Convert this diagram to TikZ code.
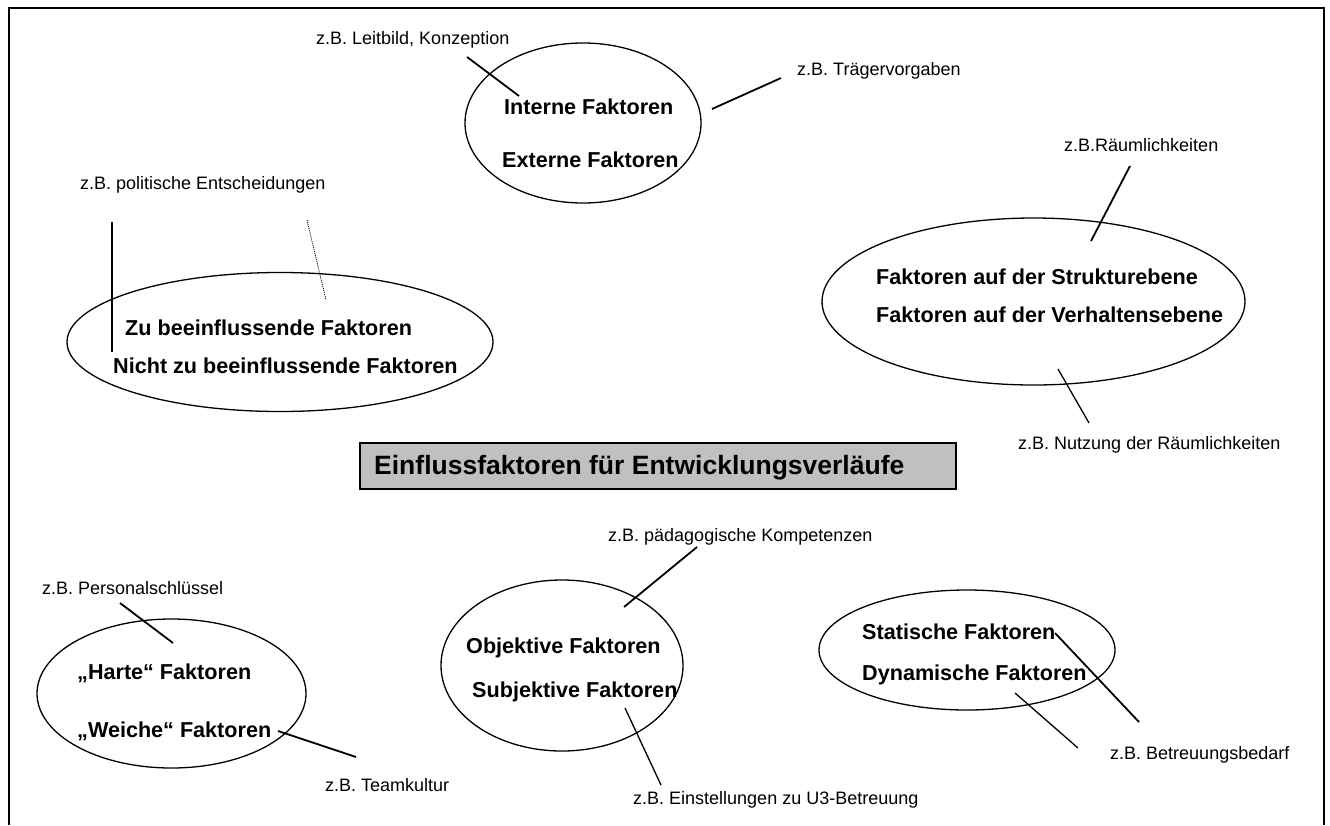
\documentclass[tikz,border=0pt]{standalone}
\usepackage{fontspec}
\setmainfont{Liberation Sans}
\usetikzlibrary{shapes.geometric}
\begin{document}
\begin{tikzpicture}[x=1pt,y=-1pt,
  lbl/.style={font=\fontsize{18}{21}\selectfont, anchor=base west, inner sep=0pt},
  fac/.style={font=\bfseries\fontsize{21.6}{25}\selectfont, anchor=base west, inner sep=0pt},
  oval/.style={draw, ellipse, line width=1.3pt, inner sep=0pt},
  conn/.style={line width=1.8pt},
  thinconn/.style={line width=1.3pt},
  dotconn/.style={line width=0.8pt, dash pattern=on 1pt off 1pt},
  titlebox/.style={draw, line width=1.5pt, fill=boxgray, anchor=north west, inner sep=0pt}]
\definecolor{boxgray}{HTML}{C0C0C0}
\useasboundingbox (0,0) rectangle (1330,825);
% frame
\draw[line width=2pt] (9,825) -- (9,8) -- (1324,8) -- (1324,825);

% ---------- ellipses ----------
\node[oval, minimum width=236pt, minimum height=160pt] (e1) at (583,123) {};
\node[oval, minimum width=426pt, minimum height=139pt] (e2) at (280,342) {};
\node[oval, minimum width=423pt, minimum height=167pt] (e3) at (1033.5,301.5) {};
\node[oval, minimum width=269pt, minimum height=149pt] (e4) at (171.5,693.5) {};
\node[oval, minimum width=242pt, minimum height=171pt] (e5) at (562,665.5) {};
\node[oval, minimum width=296pt, minimum height=120pt] (e6) at (967,650) {};

% ---------- title ----------
\node[titlebox, minimum width=596pt, minimum height=46pt] (tb) at (359,442) {};
\node[anchor=base west, inner sep=0pt, font=\bfseries\fontsize{26.5}{30}\selectfont] (title) at (374,474) {Einflussfaktoren für Entwicklungsverläufe};

% ---------- factor texts ----------
\node[fac] (t1a) at (504,114) {Interne Faktoren};
\node[fac] (t1b) at (502,167) {Externe Faktoren};
\node[fac] (t2a) at (125,335) {Zu beeinflussende Faktoren};
\node[fac] (t2b) at (113,373) {Nicht zu beeinflussende Faktoren};
\node[fac] (t3a) at (876,284) {Faktoren auf der Strukturebene};
\node[fac] (t3b) at (876,322) {Faktoren auf der Verhaltensebene};
\node[fac] (t4a) at (77,679) {„Harte“ Faktoren};
\node[fac] (t4b) at (77,737) {„Weiche“ Faktoren};
\node[fac] (t5a) at (466,653) {Objektive Faktoren};
\node[fac] (t5b) at (472,697) {Subjektive Faktoren};
\node[fac] (t6a) at (862,639) {Statische Faktoren};
\node[fac] (t6b) at (862,680) {Dynamische Faktoren};

% ---------- example labels ----------
\node[lbl] (l1) at (316,44) {z.B. Leitbild, Konzeption};
\node[lbl] (l2) at (797,75) {z.B. Trägervorgaben};
\node[lbl] (l3) at (80,189) {z.B. politische Entscheidungen};
\node[lbl] (l4) at (1064,151) {z.B.Räumlichkeiten};
\node[lbl] (l5) at (1018,449) {z.B. Nutzung der Räumlichkeiten};
\node[lbl] (l6) at (42,594) {z.B. Personalschlüssel};
\node[lbl] (l7) at (325,791) {z.B. Teamkultur};
\node[lbl] (l8) at (608,541) {z.B. pädagogische Kompetenzen};
\node[lbl] (l9) at (633,804) {z.B. Einstellungen zu U3-Betreuung};
\node[lbl] (l10) at (1110,759) {z.B. Betreuungsbedarf};

% ---------- connector end points ----------
\coordinate (c1a) at (467,57);   \coordinate (c1b) at (519,96);
\coordinate (c2a) at (712,109);  \coordinate (c2b) at (781,78);
\coordinate (c3a) at (112,222);  \coordinate (c3b) at (112,352);
\coordinate (c4a) at (307,220);  \coordinate (c4b) at (326,300);
\coordinate (c5a) at (1130,166); \coordinate (c5b) at (1091,241);
\coordinate (c6a) at (1058,369); \coordinate (c6b) at (1089,423);
\coordinate (c7a) at (120,603);  \coordinate (c7b) at (173,643);
\coordinate (c8a) at (278,731);  \coordinate (c8b) at (356,757);
\coordinate (c9a) at (697,547);  \coordinate (c9b) at (624,607);
\coordinate (c10a) at (625,708); \coordinate (c10b) at (661,785);
\coordinate (c11a) at (1055,633); \coordinate (c11b) at (1139,722);
\coordinate (c12a) at (1015,693); \coordinate (c12b) at (1078,748);

% ---------- connectors ----------
\draw[conn] (c1a) -- (c1b);
\draw[conn] (c2a) -- (c2b);
\draw[conn] (c3a) -- (c3b);
\draw[dotconn] (c4a) -- (c4b);
\draw[conn] (c5a) -- (c5b);
\draw[thinconn] (c6a) -- (c6b);
\draw[conn] (c7a) -- (c7b);
\draw[conn] (c8a) -- (c8b);
\draw[conn] (c9a) -- (c9b);
\draw[thinconn] (c10a) -- (c10b);
\draw[conn] (c11a) -- (c11b);
\draw[thinconn] (c12a) -- (c12b);
\end{tikzpicture}
\end{document}
